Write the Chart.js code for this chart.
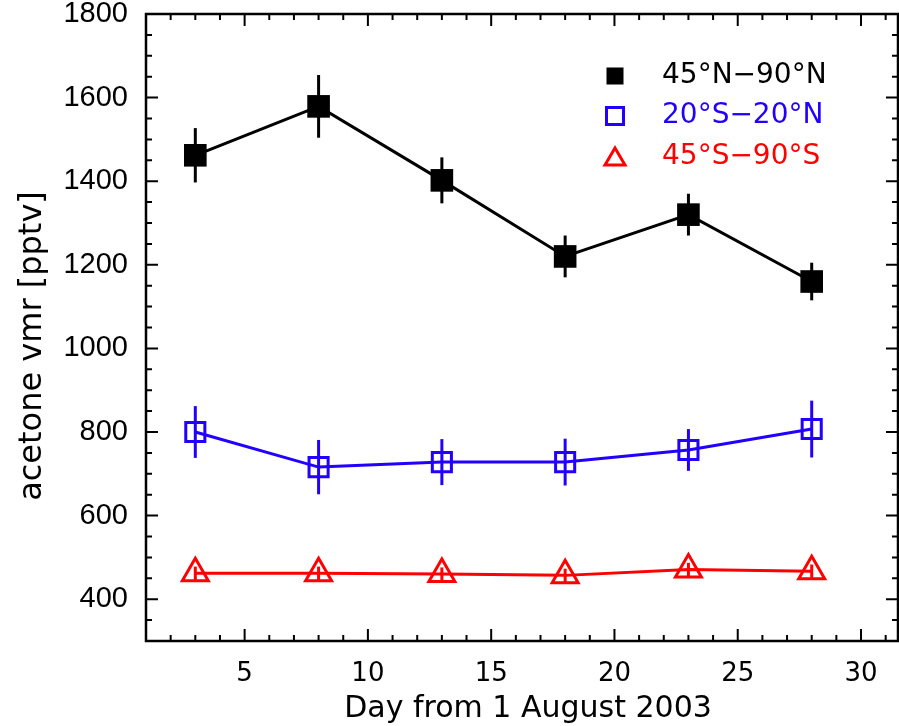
<!DOCTYPE html>
<html>
<head>
<meta charset="utf-8">
<script src="https://cdn.jsdelivr.net/npm/chart.js@4"></script>
<style>
  html, body { margin: 0; padding: 0; background: #fff; }
  #wrap { width: 899px; height: 726px; }
</style>
</head>
<body>
<div id="wrap"><canvas id="acetoneChart" width="899" height="726"></canvas></div>
<script>
// data
const days = [3, 8, 13, 18, 23, 28];
const north = [1462, 1579, 1402, 1220, 1320, 1160];
const northErr = [65, 75, 55, 50, 50, 45];
const tropics = [800, 716, 728, 728, 757, 807];
const tropicsErr = [62, 65, 55, 56, 50, 68];
const south = [462, 462, 460, 457, 471, 467];
const southErr = [16, 16, 16, 16, 16, 16];
const seriesNames = ['45°N−90°N', '20°S−20°N', '45°S−90°S'];
const xTicks = [5, 10, 15, 20, 25, 30];
const yTicks = [400, 600, 800, 1000, 1200, 1400, 1600, 1800];

const BLUE = '#2200ff';
const RED = '#ff0000';

function pts(ys) {
    return days.map((d, i) => ({ x: d, y: ys[i] }));
}

// error bars, frame with inward ticks, legend and axis titles
const decorPlugin = {
    id: 'decor',
    beforeDatasetsDraw(chart) {
        const ctx = chart.ctx;
        const xs = chart.scales.x, ys = chart.scales.y;
        const errs = [northErr, tropicsErr, southErr];
        ctx.save();
        chart.data.datasets.forEach((ds, k) => {
            ctx.strokeStyle = ds.borderColor;
            ctx.lineWidth = 3;
            ds.data.forEach((p, i) => {
                const px = xs.getPixelForValue(p.x);
                ctx.beginPath();
                ctx.moveTo(px, ys.getPixelForValue(p.y - errs[k][i]));
                ctx.lineTo(px, ys.getPixelForValue(p.y + errs[k][i]));
                ctx.stroke();
            });
        });
        ctx.restore();
    },
    afterDraw(chart) {
        const ctx = chart.ctx;
        const a = chart.chartArea;
        const xs = chart.scales.x, ys = chart.scales.y;
        ctx.save();
        ctx.strokeStyle = '#000';
        ctx.lineWidth = 2.5;
        ctx.strokeRect(a.left, a.top, a.right - a.left, a.bottom - a.top);

        ctx.lineWidth = 2;
        for (let d = 1; d <= 31; d++) {
            const len = d % 5 === 0 ? 12 : 6;
            const px = xs.getPixelForValue(d);
            ctx.beginPath();
            ctx.moveTo(px, a.bottom); ctx.lineTo(px, a.bottom - len);
            ctx.moveTo(px, a.top); ctx.lineTo(px, a.top + len);
            ctx.stroke();
        }
        for (let v = 350; v < 1800; v += 50) {
            const len = v % 200 === 0 ? 12 : 6;
            const py = ys.getPixelForValue(v);
            ctx.beginPath();
            ctx.moveTo(a.left, py); ctx.lineTo(a.left + len, py);
            ctx.moveTo(a.right, py); ctx.lineTo(a.right - len, py);
            ctx.stroke();
        }

        // legend
        const lx = 615, rows = [76, 116, 157];
        ctx.fillStyle = '#000';
        ctx.fillRect(lx - 8.5, rows[0] - 8.5, 17, 17);
        ctx.strokeStyle = BLUE;
        ctx.lineWidth = 3;
        ctx.strokeRect(lx - 8.5, rows[1] - 8.5, 17, 17);
        ctx.strokeStyle = RED;
        ctx.beginPath();
        ctx.moveTo(lx, rows[2] - 9);
        ctx.lineTo(lx + 10, rows[2] + 8);
        ctx.lineTo(lx - 10, rows[2] + 8);
        ctx.closePath();
        ctx.stroke();

        ctx.font = '28px "DejaVu Sans"';
        ctx.textBaseline = 'middle';
        ctx.textAlign = 'left';
        const cols = ['#000', BLUE, RED];
        seriesNames.forEach((s, i) => {
            ctx.fillStyle = cols[i];
            ctx.fillText(s, 662, rows[i]);
        });

        // axis titles
        ctx.fillStyle = '#000';
        ctx.font = '30px "DejaVu Sans"';
        ctx.textAlign = 'center';
        ctx.fillText('Day from 1 August 2003', 528, 709);
        ctx.font = '32px "DejaVu Sans"';
        ctx.translate(33, 346);
        ctx.rotate(-Math.PI / 2);
        ctx.fillText('acetone vmr [pptv]', 0, 0);
        ctx.restore();
    }
};

new Chart(document.getElementById('acetoneChart'), {
    type: 'line',
    data: {
        datasets: [
            {
                label: seriesNames[0],
                data: pts(north),
                borderColor: '#000',
                backgroundColor: '#000',
                borderWidth: 3,
                pointStyle: 'rect',
                pointRadius: 16,
                pointBorderWidth: 0
            },
            {
                label: seriesNames[1],
                data: pts(tropics),
                borderColor: BLUE,
                backgroundColor: 'rgba(0,0,0,0)',
                borderWidth: 3,
                pointStyle: 'rect',
                pointRadius: 13.5,
                pointBorderWidth: 3
            },
            {
                label: seriesNames[2],
                data: pts(south),
                borderColor: RED,
                backgroundColor: 'rgba(0,0,0,0)',
                borderWidth: 3,
                pointStyle: 'triangle',
                pointRadius: 15,
                pointBorderWidth: 3
            }
        ]
    },
    options: {
        responsive: false,
        animation: false,
        events: [],
        layout: { autoPadding: false, padding: { top: 14, right: 1, left: 0, bottom: 0 } },
        plugins: { legend: { display: false }, tooltip: { enabled: false } },
        scales: {
            x: {
                type: 'linear',
                min: 1,
                max: 31.5,
                grid: { display: false },
                border: { display: false },
                afterBuildTicks: (s) => { s.ticks = xTicks.map(v => ({ value: v })); },
                afterFit: (s) => { s.height = 85; s.paddingLeft = 0; s.paddingRight = 0; },
                ticks: {
                    color: '#000',
                    font: { family: 'DejaVu Sans', size: 26 },
                    padding: 10,
                    maxRotation: 0
                }
            },
            y: {
                min: 300,
                max: 1800,
                grid: { display: false },
                border: { display: false },
                afterBuildTicks: (s) => { s.ticks = yTicks.map(v => ({ value: v })); },
                afterFit: (s) => { s.width = 146; s.paddingTop = 0; s.paddingBottom = 0; },
                ticks: {
                    color: '#000',
                    font: { family: 'Liberation Sans', size: 29 },
                    padding: 10,
                    callback: (v) => String(v)
                }
            }
        }
    },
    plugins: [decorPlugin]
});
</script>
</body>
</html>
